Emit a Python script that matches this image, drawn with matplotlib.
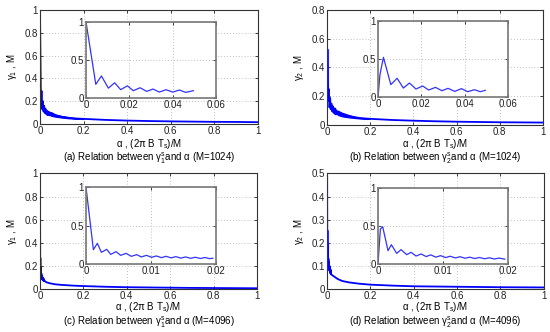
import numpy as np
import matplotlib
matplotlib.use("Agg")
import matplotlib.pyplot as plt
from matplotlib.ticker import FuncFormatter

plt.rcParams['font.family'] = ['Liberation Sans', 'DejaVu Sans']
plt.rcParams['mathtext.fontset'] = 'custom'
plt.rcParams['mathtext.rm'] = 'Liberation Sans'
plt.rcParams['mathtext.it'] = 'Liberation Sans:italic'
plt.rcParams['font.size'] = 7

# ---- data ----
# (a) gamma1, M=1024
a_in_x = [0, 0.0045, 0.0071, 0.0103, 0.0132, 0.016, 0.0191, 0.0218, 0.0249, 0.028,
          0.0309, 0.0338, 0.0369, 0.040, 0.0431, 0.046, 0.0495]
a_in_y = [1.0, 0.18, 0.29, 0.13, 0.20, 0.11, 0.16, 0.096, 0.135, 0.087,
          0.118, 0.078, 0.109, 0.078, 0.105, 0.074, 0.096]
a_tail_x = [0.07, 0.1, 0.13, 0.16, 0.2, 0.3, 0.4, 0.5, 0.6, 0.7, 0.8, 0.9, 1.0]
a_tail_y = [0.075, 0.063, 0.055, 0.049, 0.045, 0.036, 0.030, 0.026, 0.023, 0.021, 0.019, 0.018, 0.016]
a_band_x = [0.05, 0.07, 0.1, 0.13, 0.16, 0.2]
a_band_hi = [0.105, 0.085, 0.070, 0.060, 0.052, 0.046]
a_band_lo = [0.072, 0.064, 0.056, 0.050, 0.046, 0.044]

# (b) gamma2, M=1024
b_in_x = [0, 0.0009, 0.0025, 0.0059, 0.0088, 0.0117, 0.0145, 0.0175, 0.0206, 0.0234,
          0.0265, 0.0295, 0.0323, 0.0354, 0.0385, 0.0414, 0.0445, 0.0472, 0.0495]
b_in_y = [0, 0.30, 0.526, 0.167, 0.25, 0.122, 0.188, 0.109, 0.149, 0.096,
          0.131, 0.087, 0.118, 0.078, 0.114, 0.074, 0.100, 0.074, 0.092]
b_tail_x = [0.07, 0.1, 0.13, 0.16, 0.2, 0.3, 0.4, 0.5, 0.6, 0.7, 0.8, 0.9, 1.0]
b_tail_y = [0.072, 0.061, 0.053, 0.047, 0.043, 0.035, 0.030, 0.026, 0.023, 0.021, 0.019, 0.018, 0.017]
b_band_x = [0.05, 0.07, 0.1, 0.13, 0.16, 0.2]
b_band_hi = [0.100, 0.085, 0.070, 0.058, 0.050, 0.045]
b_band_lo = [0.070, 0.060, 0.053, 0.048, 0.044, 0.042]

# (c) gamma1, M=4096
c_in_x = [0, 0.00113, 0.00174, 0.00236, 0.00318, 0.0038, 0.00462, 0.00533, 0.00615, 0.00697,
          0.0078, 0.0085, 0.0093, 0.0101, 0.0108, 0.0116, 0.0123, 0.0131, 0.0138, 0.0146,
          0.0153, 0.0161, 0.0168, 0.0176, 0.0183, 0.0190, 0.0195]
c_in_y = [1.0, 0.187, 0.27, 0.152, 0.191, 0.126, 0.161, 0.113, 0.139, 0.100,
          0.122, 0.092, 0.113, 0.087, 0.105, 0.083, 0.100, 0.080, 0.096, 0.077,
          0.092, 0.074, 0.088, 0.072, 0.085, 0.070, 0.075]
c_tail_x = [0.03, 0.05, 0.07, 0.1, 0.15, 0.2, 0.3, 0.4, 0.5, 0.6, 0.7, 0.8, 0.9, 1.0]
c_tail_y = [0.060, 0.050, 0.043, 0.038, 0.032, 0.028, 0.022, 0.018, 0.016, 0.014, 0.012, 0.011, 0.010, 0.009]

# (d) gamma2, M=4096
d_in_x = [0, 0.00036, 0.00072, 0.00154, 0.00205, 0.00287, 0.00354, 0.00441, 0.00508, 0.00585,
          0.00662, 0.0074, 0.0081, 0.0089, 0.0096, 0.0104, 0.0111, 0.0119, 0.0126, 0.0134,
          0.0141, 0.0149, 0.0156, 0.0164, 0.0171, 0.0179, 0.0186, 0.0195]
d_in_y = [0, 0.46, 0.49, 0.175, 0.254, 0.140, 0.189, 0.123, 0.154, 0.105,
          0.132, 0.098, 0.120, 0.090, 0.110, 0.085, 0.102, 0.080, 0.096, 0.076,
          0.090, 0.072, 0.086, 0.069, 0.082, 0.066, 0.078, 0.064]
d_tail_x = [0.03, 0.05, 0.07, 0.1, 0.15, 0.2, 0.3, 0.4, 0.5, 0.6, 0.7, 0.8, 0.9, 1.0]
d_tail_y = [0.057, 0.044, 0.036, 0.030, 0.024, 0.020, 0.016, 0.013, 0.012, 0.011, 0.010, 0.009, 0.0085, 0.008]

main_yticks = {
    'a': [0, 0.2, 0.4, 0.6, 0.8, 1.0],
    'b': [0, 0.2, 0.4, 0.6, 0.8],
    'c': [0, 0.2, 0.4, 0.6, 0.8, 1.0],
    'd': [0, 0.1, 0.2, 0.3, 0.4, 0.5],
}
inset_xticks_1024 = [0, 0.02, 0.04, 0.06]
inset_xticks_4096 = [0, 0.01, 0.02]

fmt = FuncFormatter(lambda v, p: '%g' % v)


def style(ax, frame_col, frame_lw):
    ax.tick_params(direction='in', length=2.5, width=0.6, top=True, right=True,
                   labelsize=7, pad=1.5, colors='#222222')
    for s in ax.spines.values():
        s.set_color(frame_col)
        s.set_linewidth(frame_lw)
    ax.grid(True, linestyle=(0, (1, 2.5)), color='#aaaaaa', linewidth=0.6)
    ax.xaxis.set_major_formatter(fmt)
    ax.yaxis.set_major_formatter(fmt)


fig = plt.figure(figsize=(5.5, 3.32), dpi=100)

panels = [
    ('a', [0.0727, 0.6265, 0.3964, 0.3434], [0.1564, 0.7048, 0.2364, 0.2289],
     a_in_x, a_in_y, a_tail_x, a_tail_y, (a_band_x, a_band_hi, a_band_lo), 1.0,
     0.06, inset_xticks_1024, r'γ$_1$ , M', r'(a) Relation between γ$_1^{\mathrm{s}}$and α (M=1024)'),
    ('b', [0.5945, 0.6235, 0.3927, 0.3464], [0.6873, 0.7069, 0.2364, 0.2289],
     b_in_x, b_in_y, b_tail_x, b_tail_y, (b_band_x, b_band_hi, b_band_lo), 0.8,
     0.06, inset_xticks_1024, r'γ$_2$ , M', r'(b) Relation between γ$_2^{\mathrm{s}}$and α (M=1024)'),
    ('c', [0.0727, 0.1286, 0.3945, 0.3494], [0.1564, 0.2048, 0.2364, 0.231],
     c_in_x, c_in_y, c_tail_x, c_tail_y, None, 1.0,
     0.02, inset_xticks_4096, r'γ$_1$ , M', r'(c) Relation between γ$_1^{\mathrm{s}}$and α (M=4096)'),
    ('d', [0.5945, 0.1286, 0.394, 0.3494], [0.6873, 0.2048, 0.2364, 0.2289],
     d_in_x, d_in_y, d_tail_x, d_tail_y, None, 0.5,
     0.02, inset_xticks_4096, r'γ$_2$ , M', r'(d) Relation between γ$_2^{\mathrm{s}}$and α (M=4096)'),
]

for (key, mrect, irect, ix, iy, tx, ty, band, ymax, ixmax, ixt, ylab, cap) in panels:
    ax = fig.add_axes(mrect)
    style(ax, '#333333', 0.8)
    ax.plot(ix + tx, iy + ty, color='#0000ff', linewidth=1.3)
    if band is not None:
        ax.fill_between(band[0], band[2], band[1], color='#0000ff', linewidth=0.8)
    ax.set_xlim(0, 1)
    ax.set_ylim(0, ymax)
    ax.set_xticks([0, 0.2, 0.4, 0.6, 0.8, 1.0])
    ax.set_yticks(main_yticks[key])
    ax.set_ylabel(ylab, fontsize=7, labelpad=4)

    ins = fig.add_axes(irect)
    style(ins, '#777777', 1.2)
    ins.plot(ix, iy, color='#3333ff', linewidth=0.9, solid_joinstyle='round')
    ins.set_xlim(0, ixmax)
    ins.set_ylim(0, 1)
    ins.set_xticks(ixt)
    ins.set_yticks([0, 0.5, 1])

    cx = mrect[0] + mrect[2] / 2
    if mrect[1] > 0.5:
        xl_y, cap_y = 1 - 143.5 / 332, 1 - 158.5 / 332
    else:
        xl_y, cap_y = 1 - 307.5 / 332, 1 - 322 / 332
    fig.text(cx, xl_y, r'α , (2π B T$_{\mathrm{s}}$)/M', ha='center', va='center', fontsize=7)
    fig.text(cx, cap_y, cap, ha='center', va='center', fontsize=7)

fig.savefig('out.png', dpi=100)
